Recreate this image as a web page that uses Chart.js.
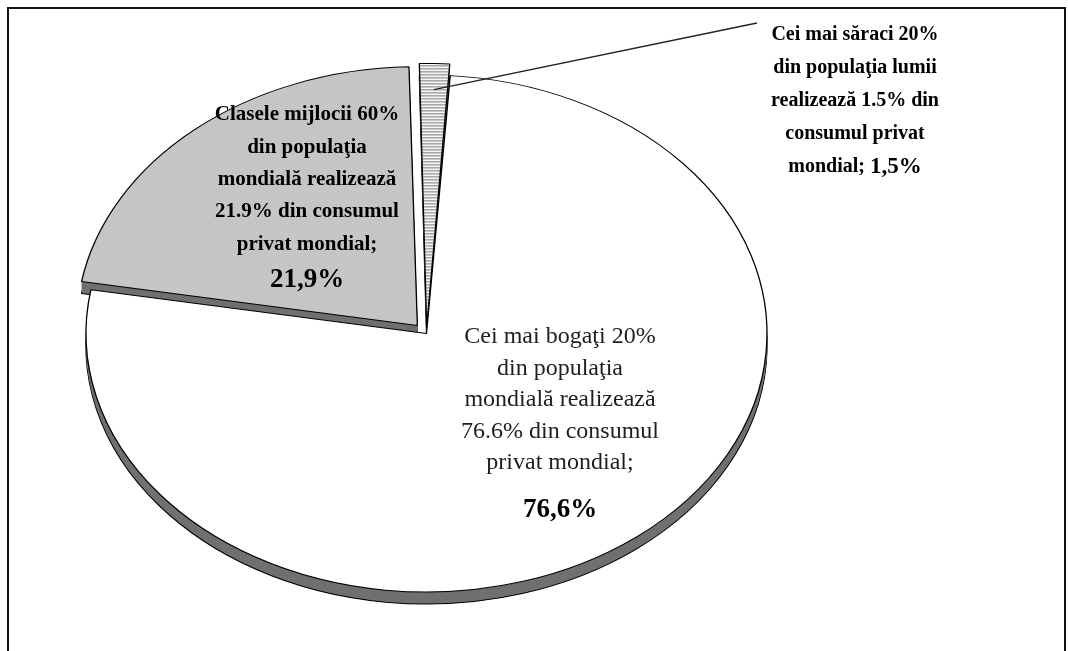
<!DOCTYPE html>
<html>
<head>
<meta charset="utf-8">
<script src="https://cdn.jsdelivr.net/npm/chart.js@4.4.1/dist/chart.umd.min.js"></script>
<style>
  html, body { margin: 0; padding: 0; background: #fff; }
  canvas { display: block; }
</style>
</head>
<body>
<canvas id="consumChart" width="1068" height="651"></canvas>
<script>
// Consumul privat mondial pe categorii de populatie
const categories = [
  "Cei mai săraci 20% din populaţia lumii",
  "Cei mai bogaţi 20% din populaţia mondială",
  "Clasele mijlocii 60% din populaţia mondială"
];
const shares = [1.5, 76.6, 21.9];
const labelLines = [
  ["Cei mai săraci 20%", "din populaţia lumii", "realizează 1.5% din", "consumul privat", "mondial;"],
  ["Cei mai bogaţi 20%", "din populaţia", "mondială realizează", "76.6% din consumul", "privat mondial;"],
  ["Clasele mijlocii 60%", "din populaţia", "mondială realizează", "21.9% din consumul", "privat mondial;"]
];

const TILT = 258.5 / 340.5;
const SERIF = '"Liberation Serif", "Times New Roman", serif';

// Texturi pentru felii
function makePattern(w, h, paint) {
  const c = document.createElement("canvas");
  c.width = w;
  c.height = h;
  const g = c.getContext("2d");
  paint(g);
  const p = g.createPattern(c, "repeat");
  p.setTransform(new DOMMatrix([1, 0, 0, 1 / TILT, 0, 0]));
  return p;
}
const dots = makePattern(2, 2, (g) => {
  g.fillStyle = "#f0f0f0"; g.fillRect(0, 0, 2, 2);
  g.fillStyle = "#9c9c9c"; g.fillRect(0, 0, 1, 1); g.fillRect(1, 1, 1, 1);
});
const stripes = makePattern(4, 3, (g) => {
  g.fillStyle = "#f6f6f6"; g.fillRect(0, 0, 4, 3);
  g.fillStyle = "#7c7c7c"; g.fillRect(0, 0, 4, 1);
});

// Plugin: pie "3D" eliptic, cu grosime
const pie3d = {
  id: "pie3d",
  beforeDraw(chart) {
    const ctx = chart.ctx;
    ctx.save();
    ctx.fillStyle = "#fff";
    ctx.fillRect(0, 0, chart.width, chart.height);
    ctx.lineWidth = 2;
    ctx.strokeStyle = "#111";
    ctx.strokeRect(8, 8, 1057, 800);
    ctx.restore();
  },
  beforeDatasetsDraw(chart, args, opts) {
    const ctx = chart.ctx;
    const arcs = chart.getDatasetMeta(0).data;
    const midSin = (a) => Math.sin((a.startAngle + a.endAngle) / 2);
    const order = arcs.map((a, i) => i).sort((i, j) => midSin(arcs[i]) - midSin(arcs[j]));
    const toScreen = (d) => {
      ctx.translate(0, opts.centerY + d);
      ctx.scale(1, TILT);
      ctx.translate(0, -arcs[0].y);
    };
    order.forEach((i) => {
      const arc = arcs[i];
      for (let d = opts.depth; d >= 1; d--) {
        const side = Object.create(arc);
        const bottom = d === opts.depth;
        side.options = Object.assign({}, arc.options, {
          backgroundColor: opts.sideColor,
          borderColor: bottom ? "#000" : opts.sideColor,
          borderWidth: bottom ? 1.3 : 0
        });
        ctx.save();
        toScreen(d);
        side.draw(ctx);
        ctx.restore();
      }
      ctx.save();
      toScreen(0);
      arc.draw(ctx);
      ctx.restore();
    });
    return false;
  },
  afterDraw(chart, args, opts) {
    const ctx = chart.ctx;
    const arcs = chart.getDatasetMeta(0).data;
    // punct pe felie -> coordonate ecran
    const pointOn = (arc, frac) => {
      const mid = (arc.startAngle + arc.endAngle) / 2;
      const shift = (arc.options.offset || 0) / 4;
      const r = arc.outerRadius * frac + shift;
      return {
        x: arc.x + Math.cos(mid) * r,
        y: opts.centerY + Math.sin(mid) * r * TILT
      };
    };
    ctx.save();
    ctx.textAlign = "center";
    ctx.textBaseline = "middle";
    opts.labels.forEach((lab, i) => {
      const lines = labelLines[i];
      const pct = shares[i].toFixed(1).replace(".", ",") + "%";
      const weight = lab.bold ? "bold " : "";
      ctx.fillStyle = lab.color;
      lines.forEach((t, k) => {
        const y = lab.y + k * lab.lh;
        if (lab.inline && k === lines.length - 1) {
          ctx.font = weight + lab.size + "px " + SERIF;
          const a = t + " ";
          const wa = ctx.measureText(a).width;
          ctx.font = "bold " + lab.pctSize + "px " + SERIF;
          const wb = ctx.measureText(pct).width;
          const x0 = lab.x - (wa + wb) / 2;
          ctx.textAlign = "left";
          ctx.font = weight + lab.size + "px " + SERIF;
          ctx.fillText(a, x0, y);
          ctx.font = "bold " + lab.pctSize + "px " + SERIF;
          ctx.fillText(pct, x0 + wa, y);
          ctx.textAlign = "center";
        } else {
          ctx.font = weight + lab.size + "px " + SERIF;
          ctx.fillText(t, lab.x, y);
        }
      });
      if (!lab.inline) {
        ctx.font = "bold " + lab.pctSize + "px " + SERIF;
        ctx.fillStyle = "#000";
        ctx.fillText(pct, lab.x, lab.y + (lines.length - 1) * lab.lh + lab.pctGap);
      }
      if (lab.leader) {
        const p = pointOn(arcs[i], lab.leader.frac);
        ctx.beginPath();
        ctx.moveTo(p.x, p.y);
        ctx.lineTo(lab.leader.x, lab.leader.y);
        ctx.lineWidth = 1.3;
        ctx.strokeStyle = "#222";
        ctx.stroke();
      }
    });
    ctx.restore();
  }
};

new Chart(document.getElementById("consumChart"), {
  type: "pie",
  data: {
    labels: categories,
    datasets: [{
      data: shares,
      backgroundColor: [stripes, "#ffffff", dots],
      borderColor: "#000",
      borderWidth: 1.3,
      offset: [32, 0, 56],
      radius: 340.5,
      rotation: -1.4
    }]
  },
  options: {
    responsive: false,
    animation: false,
    events: [],
    layout: { padding: { left: 0, right: 215, top: 0, bottom: 0 } },
    plugins: {
      legend: { display: false },
      tooltip: { enabled: false },
      pie3d: {
        centerY: 333.5,
        depth: 12,
        sideColor: "#707070",
        labels: [
          { x: 855, y: 35, lh: 33, size: 20, pctSize: 23, bold: true, inline: true, color: "#000",
            leader: { frac: 0.92, x: 757, y: 23 } },
          { x: 560, y: 337, lh: 31.5, size: 24, pctSize: 27, pctGap: 47, bold: false, color: "#1e1e1e" },
          { x: 307, y: 115, lh: 32.3, size: 21, pctSize: 27, pctGap: 36, bold: true, color: "#000" }
        ]
      }
    }
  },
  plugins: [pie3d]
});
</script>
</body>
</html>
